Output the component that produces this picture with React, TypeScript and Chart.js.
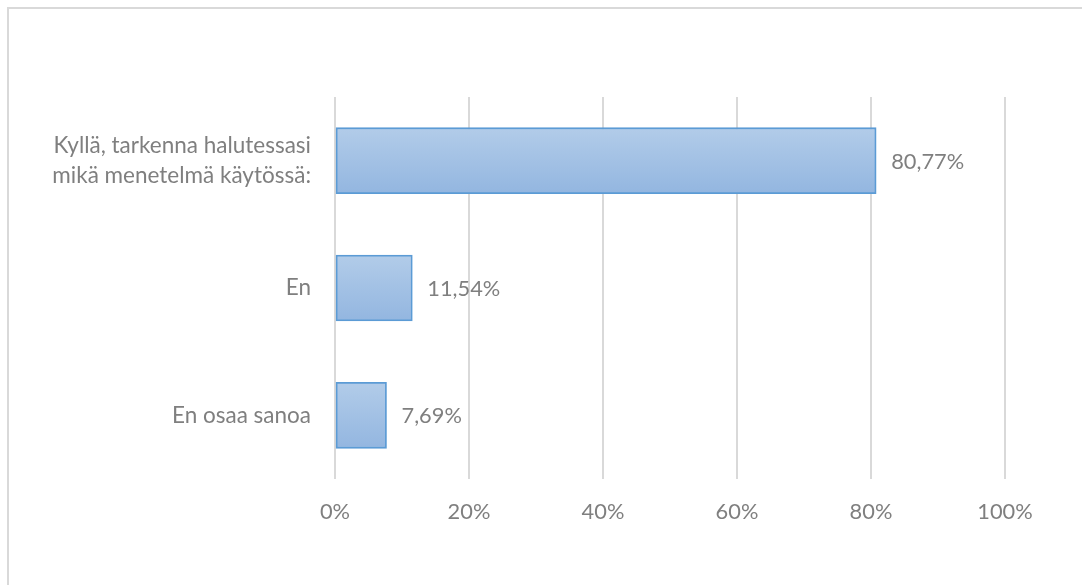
import { useEffect, useRef } from 'react';
import { Chart, registerables } from 'chart.js';

Chart.register(...registerables);

const categories: (string | string[])[] = [
  ['Kyllä, tarkenna halutessasi', 'mikä menetelmä käytössä:'],
  'En',
  'En osaa sanoa',
];
const values = [80.77, 11.54, 7.69];
const valueLabels = ['80,77%', '11,54%', '7,69%'];
const tickValues = [0, 20, 40, 60, 80, 100];

const FONT = 'Lato';
const TEXT = '#7f7f7f';
const HALF = 33;

const valueLabelPlugin = {
  id: 'valueLabels',
  afterDatasetsDraw(chart: any) {
    const ctx = chart.ctx;
    const meta = chart.getDatasetMeta(0);
    ctx.save();
    ctx.font = `21.8px ${FONT}`;
    ctx.fillStyle = TEXT;
    ctx.textAlign = 'left';
    ctx.textBaseline = 'middle';
    meta.data.forEach((el: any, i: number) => {
      ctx.fillText(valueLabels[i], el.x + 15, el.y + 1);
    });
    ctx.restore();
  },
};

export default function App() {
  const ref = useRef<HTMLCanvasElement | null>(null);
  useEffect(() => {
    if (!ref.current) return;
    const chart = new Chart(ref.current, {
      type: 'bar',
      data: {
        labels: categories as any,
        datasets: [
          {
            data: values,
            barThickness: HALF * 2,
            borderWidth: 1.8,
            borderColor: '#5b9bd5',
            borderSkipped: false,
            backgroundColor: (c: any) => {
              const chart = c.chart;
              const y = chart.scales?.y;
              if (!y || c.dataIndex === undefined) return '#a3c0e5';
              const center = y.getPixelForValue(c.dataIndex);
              if (!Number.isFinite(center)) return '#a3c0e5';
              const g = chart.ctx.createLinearGradient(0, center - HALF, 0, center + HALF);
              g.addColorStop(0, '#b2cce9');
              g.addColorStop(1, '#93b6e0');
              return g;
            },
          },
        ],
      },
      options: {
        indexAxis: 'y',
        animation: false,
        responsive: false,
        maintainAspectRatio: false,
        layout: { padding: { left: 0, right: 77, top: 88, bottom: 0 } },
        plugins: {
          legend: { display: false },
          tooltip: { enabled: false },
          title: { display: false },
        },
        scales: {
          x: {
            min: 0,
            max: 100,
            afterBuildTicks: (s: any) => {
              s.ticks = tickValues.map((v) => ({ value: v }));
            },
            afterFit: (s: any) => {
              s.height = 106;
            },
            grid: { color: '#d9d9d9', lineWidth: 2, drawTicks: false },
            border: { display: false },
            ticks: {
              padding: 20,
              color: TEXT,
              font: { family: FONT, size: 21.8 },
              callback: (v: any) => `${v}%`,
            },
          },
          y: {
            afterFit: (s: any) => {
              s.width = 326;
            },
            grid: { display: false },
            border: { display: false },
            ticks: {
              padding: 16,
              color: TEXT,
              font: { family: FONT, size: 22.5, lineHeight: 1.3 },
            },
          },
        },
      },
      plugins: [valueLabelPlugin],
    });
    chart.update();
    return () => chart.destroy();
  }, []);

  return (
    <div
      style={{
        position: 'fixed',
        left: 7,
        top: 7,
        width: 1075,
        height: 578,
        borderTop: '2px solid #d9d9d9',
        borderLeft: '2px solid #d9d9d9',
        boxSizing: 'border-box',
        background: '#fff',
      }}
    >
      <canvas ref={ref} width={1073} height={576} style={{ display: 'block' }} />
    </div>
  );
}
